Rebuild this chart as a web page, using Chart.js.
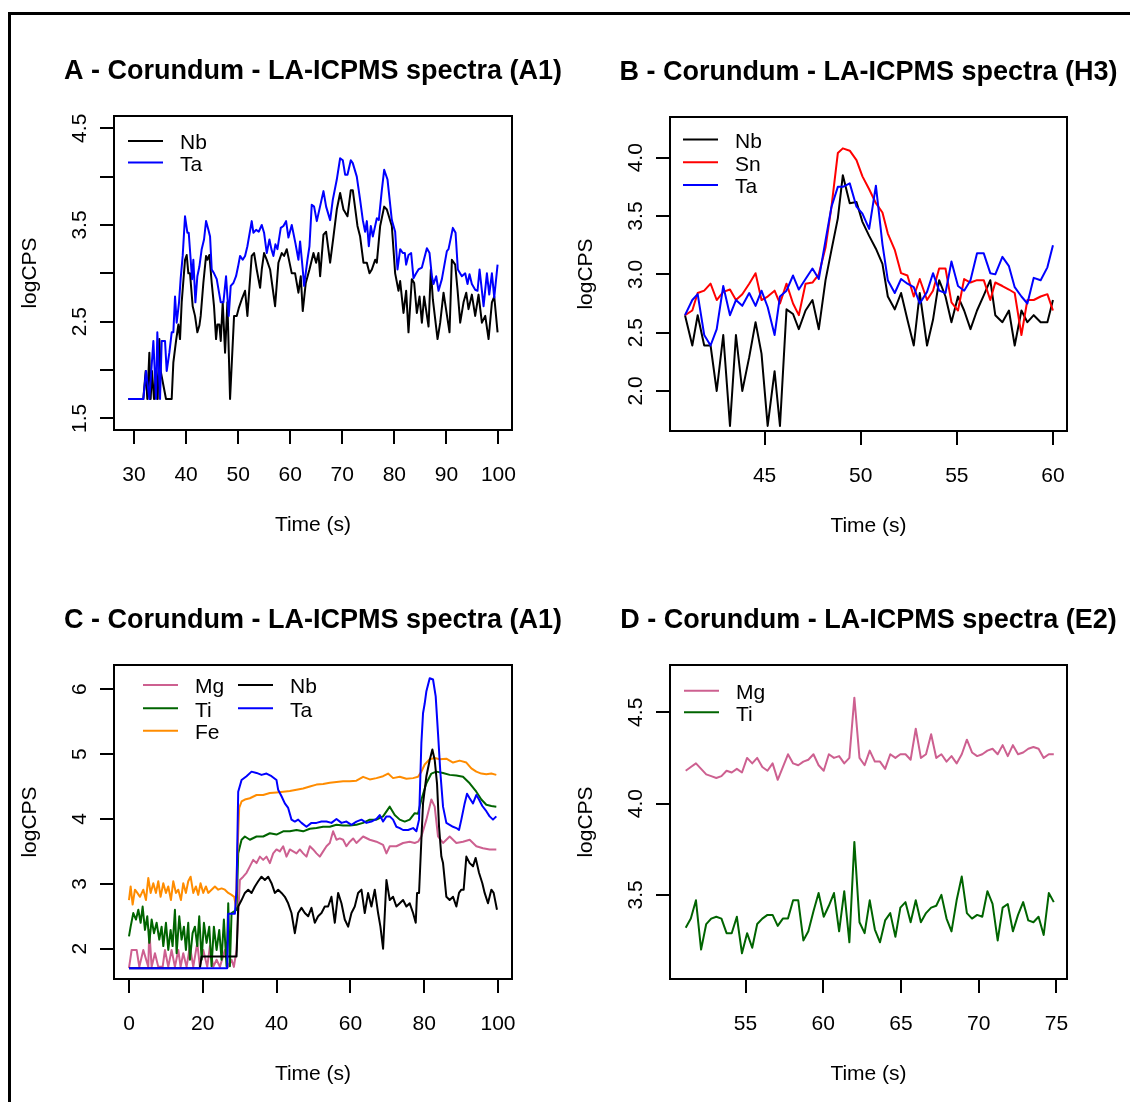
<!DOCTYPE html>
<html>
<head>
<meta charset="utf-8">
<script src="https://cdn.jsdelivr.net/npm/chart.js@4.4.1/dist/chart.umd.min.js"></script>
<style>
  body { margin: 0; background: #fff; }
  #page { position: relative; width: 1130px; height: 1102px; overflow: hidden; background: #fff; }
  #frame { position: absolute; left: 8px; top: 12px; width: 1300px; height: 1300px; border-left: 3px solid #000; border-top: 3px solid #000; }
  canvas { position: absolute; }
</style>
</head>
<body>
<div id="page">
  <div id="frame"></div>
  <canvas id="chartA" width="565" height="551" style="left:0;top:0"></canvas>
  <canvas id="chartB" width="565" height="551" style="left:565px;top:0"></canvas>
  <canvas id="chartC" width="565" height="551" style="left:0;top:551px"></canvas>
  <canvas id="chartD" width="565" height="551" style="left:565px;top:551px"></canvas>
</div>
<script>
// ---- A: spot A1, Nb / Ta  [time s, logCPS]
const nbA = [[28.91,1.70],[31.79,1.70],[32.24,1.99],[32.56,1.70],[32.95,2.18],[33.20,1.70],[33.46,1.99],[33.84,1.70],[34.23,1.99],[34.55,1.70],[34.87,2.32],[35.12,1.99],[36.15,1.70],[37.24,1.70],[37.56,2.08],[38.07,2.30],[38.52,2.47],[38.84,2.32],[39.16,2.70],[39.80,3.14],[40.12,3.19],[40.44,3.00],[40.76,3.00],[41.27,2.66],[41.72,2.56],[42.17,2.39],[42.56,2.46],[42.81,2.56],[43.32,2.90],[43.84,3.18],[44.09,3.14],[44.48,3.19],[44.93,2.90],[45.37,2.66],[45.76,2.32],[46.02,2.47],[46.40,2.47],[46.66,2.30],[47.04,2.70],[47.49,2.18],[47.94,2.70],[48.45,1.70],[49.22,2.56],[49.73,2.56],[50.12,2.64],[50.69,2.73],[51.33,2.82],[51.78,2.56],[52.61,3.18],[53.06,3.21],[53.57,3.04],[54.22,2.85],[54.54,3.04],[54.98,3.21],[55.50,3.14],[56.14,3.04],[57.10,2.66],[57.74,3.11],[58.38,3.21],[58.83,3.18],[59.34,3.25],[60.30,3.00],[60.94,3.00],[61.58,2.80],[62.03,2.97],[62.41,2.61],[62.99,2.90],[63.70,3.04],[64.47,3.21],[64.98,3.11],[65.43,3.21],[65.75,2.97],[66.39,3.40],[66.90,3.43],[67.67,3.11],[68.31,3.38],[68.95,3.66],[69.59,3.83],[70.23,3.66],[71.00,3.59],[71.64,3.86],[72.02,3.86],[72.92,3.49],[73.43,3.38],[74.07,3.11],[74.72,3.11],[75.23,3.00],[75.68,3.04],[76.32,3.14],[76.64,3.11],[77.28,3.49],[78.05,3.69],[78.56,3.66],[79.52,3.49],[80.16,3.00],[80.80,2.82],[81.12,2.92],[81.76,2.59],[82.27,2.82],[82.72,2.39],[83.36,2.94],[83.81,2.90],[84.32,2.59],[84.84,2.76],[85.29,2.49],[85.73,2.76],[86.57,2.45],[87.01,3.04],[87.40,2.73],[88.30,2.32],[88.81,2.49],[89.45,2.80],[90.60,2.39],[91.05,3.14],[91.69,3.09],[92.14,2.83],[92.65,2.49],[93.29,2.70],[93.81,2.80],[94.25,2.63],[94.89,2.78],[95.53,2.56],[96.17,2.78],[96.82,2.49],[97.46,2.56],[98.10,2.32],[98.74,2.70],[99.19,2.76],[99.83,2.39]];
const taA = [[28.91,1.70],[31.79,1.70],[32.31,1.99],[32.95,1.70],[33.72,2.30],[34.23,1.70],[34.48,2.39],[35.00,1.70],[35.32,2.30],[35.96,2.30],[36.28,1.99],[36.79,2.18],[37.24,2.39],[37.56,2.39],[37.88,2.76],[38.20,2.49],[38.65,2.70],[38.97,2.95],[39.35,3.18],[39.80,3.59],[40.25,3.42],[40.51,3.42],[40.89,3.14],[41.15,2.94],[41.40,3.14],[41.79,2.70],[42.17,2.97],[42.56,3.07],[43.00,3.25],[43.45,3.35],[43.84,3.54],[44.29,3.45],[44.61,3.38],[44.93,3.04],[45.37,3.00],[45.89,2.94],[46.66,2.70],[47.17,2.70],[47.68,2.97],[48.19,2.56],[48.58,2.87],[49.09,2.90],[49.60,2.97],[49.99,3.07],[50.37,3.18],[50.88,3.14],[51.33,3.18],[51.78,3.28],[52.61,3.54],[52.93,3.42],[53.45,3.45],[53.96,3.43],[54.54,3.50],[54.98,3.42],[55.50,3.21],[56.01,3.35],[56.39,3.25],[56.78,3.18],[57.16,3.30],[57.55,3.25],[58.19,3.47],[58.70,3.49],[59.21,3.54],[59.66,3.37],[60.30,3.50],[61.01,3.31],[61.58,3.14],[61.90,3.33],[62.41,3.04],[62.67,2.87],[63.31,3.14],[63.70,3.28],[64.14,3.71],[64.59,3.69],[65.11,3.54],[66.39,3.85],[66.90,3.69],[67.67,3.55],[68.18,3.76],[68.95,3.97],[69.59,4.19],[70.10,4.17],[70.55,4.02],[71.00,4.02],[71.64,4.17],[72.02,4.14],[72.79,4.00],[73.43,3.76],[73.95,3.55],[74.39,3.43],[74.72,3.54],[75.10,3.28],[75.48,3.49],[75.87,3.38],[76.64,3.57],[77.02,3.55],[77.60,3.86],[78.05,4.07],[78.69,3.97],[79.52,3.55],[80.16,3.43],[80.61,3.04],[81.12,3.25],[81.63,3.21],[82.02,3.21],[82.27,3.09],[82.72,3.19],[83.23,3.21],[83.68,2.95],[84.20,3.00],[84.64,3.04],[85.29,3.06],[86.25,3.26],[86.76,3.21],[87.21,2.97],[87.53,2.89],[88.04,2.97],[88.49,2.82],[89.13,2.94],[90.09,3.23],[90.41,3.25],[91.24,3.47],[91.76,3.42],[92.20,3.04],[92.97,2.97],[93.61,3.00],[94.06,2.89],[94.44,2.99],[94.89,2.89],[95.53,2.83],[95.98,2.82],[96.37,3.04],[97.14,2.66],[97.78,3.00],[98.23,2.78],[98.74,3.00],[99.19,2.75],[99.83,3.09]];

// ---- B: spot H3, Nb / Sn / Ta (common time base)
const timesB = [40.86,41.24,41.52,41.86,42.19,42.51,42.85,43.20,43.51,43.84,44.20,44.53,44.84,45.16,45.52,45.80,46.14,46.48,46.78,47.13,47.49,47.82,48.17,48.48,48.81,49.07,49.43,49.78,50.09,50.44,50.79,51.13,51.41,51.77,52.10,52.43,52.76,53.07,53.45,53.76,54.08,54.41,54.72,55.06,55.38,55.71,56.05,56.40,56.74,57.00,57.37,57.71,58.01,58.36,58.67,59.00,59.36,59.71,60.00];
const nbB = [2.65,2.39,2.65,2.39,2.39,2.00,2.48,1.70,2.48,2.00,2.29,2.59,2.32,1.70,2.17,1.70,2.70,2.66,2.53,2.69,2.78,2.53,2.95,3.21,3.48,3.85,3.61,3.62,3.45,3.33,3.22,3.09,2.81,2.70,2.84,2.61,2.39,2.84,2.39,2.61,2.95,2.81,2.59,2.81,2.69,2.53,2.69,2.82,2.95,2.65,2.59,2.69,2.39,2.69,2.59,2.65,2.59,2.59,2.78];
const snB = [2.65,2.69,2.84,2.86,2.92,2.78,2.85,2.87,2.78,2.83,2.92,3.01,2.78,2.81,2.86,2.75,2.92,2.75,2.65,2.92,2.93,3.00,3.23,3.58,4.04,4.08,4.06,3.98,3.84,3.73,3.61,3.53,3.35,3.21,3.01,2.99,2.81,2.96,2.78,2.86,3.05,3.05,2.76,2.69,2.96,2.93,2.95,2.95,2.78,2.93,2.90,2.87,2.84,2.48,2.78,2.78,2.81,2.83,2.69];
const taB = [2.65,2.78,2.83,2.48,2.39,2.53,2.90,2.65,2.78,2.73,2.84,2.73,2.86,2.72,2.48,2.81,2.86,2.99,2.87,2.96,3.05,2.96,3.29,3.58,3.75,3.75,3.78,3.58,3.52,3.39,3.76,3.26,2.95,2.84,2.96,2.92,2.89,2.75,2.85,3.01,2.86,2.84,3.11,2.90,2.86,2.95,3.18,3.18,3.01,3.00,3.15,3.07,2.89,2.81,2.75,2.97,2.95,3.06,3.25];

// ---- C: spot A1, Mg / Ti / Fe / Nb / Ta  [time s, logCPS]
const mgC = [[0,1.70],[0.72,1.98],[2.08,1.98],[2.80,1.72],[3.88,1.98],[5.23,1.72],[5.51,2.29],[6.14,1.72],[7.04,1.93],[7.94,1.72],[9.12,1.72],[9.75,1.98],[10.65,1.72],[11.55,1.98],[12.45,1.72],[13.36,1.98],[13.99,1.72],[14.71,1.93],[15.61,1.72],[16.52,2.04],[17.42,1.72],[18.50,2.09],[19.22,1.72],[20.13,1.98],[21.21,1.72],[21.93,2.04],[22.83,1.72],[23.74,1.83],[24.64,1.72],[25.99,1.98],[26.90,1.72],[27.80,1.83],[28.43,1.72],[29.15,1.98],[30.05,3.06],[30.96,3.11],[31.86,3.17],[32.76,3.27],[33.66,3.37],[34.57,3.32],[35.47,3.42],[36.37,3.37],[37.27,3.42],[38.18,3.32],[39.08,3.47],[39.98,3.53],[40.88,3.50],[41.79,3.58],[42.69,3.42],[43.59,3.53],[44.49,3.50],[45.40,3.47],[46.30,3.53],[47.20,3.47],[48.10,3.42],[49.01,3.58],[49.91,3.53],[50.81,3.47],[51.71,3.42],[52.62,3.50],[53.52,3.58],[54.42,3.63],[55.32,3.81],[56.23,3.68],[57.13,3.70],[58.03,3.68],[58.93,3.58],[59.84,3.65],[60.74,3.70],[61.64,3.63],[63.45,3.73],[65.25,3.68],[67.06,3.65],[68.86,3.60],[69.77,3.47],[70.67,3.58],[72.47,3.58],[74.28,3.63],[76.08,3.65],[77.44,3.63],[78.34,3.65],[79.24,3.73],[80.60,3.99],[81.95,4.30],[82.85,4.19],[83.75,3.73],[85.11,3.63],[86.91,3.73],[88.72,3.63],[90.52,3.65],[92.33,3.68],[94.13,3.58],[95.94,3.55],[97.74,3.53],[99.55,3.53]];
const tiC = [[0,2.19],[0.45,2.34],[1.17,2.55],[1.90,2.45],[2.53,2.60],[3.16,2.40],[3.70,2.65],[4.33,2.29],[4.96,2.50],[5.51,2.09],[6.14,2.45],[6.77,2.24],[7.49,2.40],[8.21,2.14],[8.84,2.34],[9.30,2.04],[10.02,2.40],[10.65,1.98],[11.28,2.29],[11.82,2.04],[12.45,2.60],[12.91,1.93],[13.63,2.50],[14.26,2.14],[14.89,2.34],[15.43,1.98],[16.06,2.40],[16.52,1.83],[17.24,2.24],[17.87,2.34],[18.50,2.04],[19.04,2.50],[19.68,1.83],[20.31,2.40],[21.03,2.09],[21.75,2.34],[22.38,1.73],[23.01,2.34],[23.74,1.98],[24.46,2.29],[25.09,1.83],[25.72,2.45],[26.44,1.73],[26.90,2.70],[27.35,1.73],[27.80,2.55],[29.15,2.60],[29.60,3.47],[30.51,3.68],[31.41,3.73],[32.76,3.68],[34.57,3.73],[36.37,3.73],[38.18,3.78],[39.98,3.76],[41.79,3.81],[43.59,3.81],[45.40,3.83],[47.20,3.81],[49.01,3.85],[50.81,3.86],[52.62,3.88],[54.42,3.88],[56.23,3.91],[58.03,3.90],[59.84,3.90],[61.64,3.91],[63.45,3.94],[65.25,3.99],[67.06,3.99],[68.86,4.04],[70.67,4.19],[72.02,4.06],[73.38,3.99],[74.73,3.96],[76.08,3.99],[77.44,4.09],[78.34,4.08],[79.24,4.30],[80.60,4.55],[81.95,4.70],[83.30,4.73],[85.11,4.71],[86.91,4.68],[88.72,4.67],[90.52,4.65],[92.33,4.55],[94.13,4.42],[95.49,4.30],[96.84,4.22],[98.20,4.20],[99.55,4.19]];
const feC = [[0,2.75],[0.45,2.96],[0.99,2.68],[1.62,2.91],[2.26,2.86],[2.98,2.80],[3.88,2.91],[4.60,2.75],[5.23,3.09],[5.87,2.86],[6.59,3.01],[7.31,2.86],[7.94,3.04],[8.57,2.80],[9.30,3.01],[10.02,2.86],[10.65,2.96],[11.37,2.75],[12.00,3.04],[12.73,2.86],[13.36,2.91],[14.08,2.75],[14.71,3.01],[15.43,2.86],[16.06,3.04],[16.70,3.11],[17.42,2.86],[18.14,2.96],[18.77,2.83],[19.40,3.01],[20.13,2.86],[20.85,2.96],[21.48,2.86],[22.38,2.91],[23.29,2.96],[24.19,2.91],[25.09,2.93],[25.99,2.91],[26.90,2.86],[27.80,2.83],[28.52,2.80],[28.97,2.65],[29.33,3.40],[29.87,4.17],[30.51,4.27],[31.41,4.30],[32.76,4.32],[34.57,4.37],[36.37,4.37],[38.18,4.40],[39.98,4.41],[41.79,4.42],[43.59,4.43],[45.40,4.45],[47.20,4.47],[49.01,4.50],[50.81,4.53],[52.62,4.54],[54.42,4.56],[56.23,4.57],[58.03,4.58],[59.84,4.58],[61.64,4.59],[63.45,4.65],[65.25,4.61],[67.06,4.63],[68.86,4.66],[70.22,4.70],[71.57,4.63],[73.38,4.65],[75.18,4.62],[76.99,4.63],[78.34,4.65],[79.24,4.73],[80.14,4.84],[81.50,4.92],[82.85,4.94],[84.21,4.92],[86.01,4.93],[87.82,4.87],[89.62,4.90],[91.43,4.87],[92.78,4.78],[94.13,4.73],[95.49,4.70],[96.84,4.69],[98.20,4.70],[99.55,4.68]];
const nbC = [[0,1.70],[19.22,1.70],[19.68,1.88],[29.15,1.88],[29.60,2.65],[30.51,2.75],[31.41,2.86],[32.31,2.91],[33.21,2.86],[34.12,2.96],[35.02,3.04],[35.92,3.11],[36.82,3.06],[37.73,3.11],[38.63,3.01],[39.53,2.86],[40.43,2.91],[41.34,2.86],[42.24,2.80],[43.14,2.70],[44.04,2.55],[44.95,2.24],[45.85,2.55],[46.75,2.63],[47.65,2.55],[48.56,2.50],[49.46,2.63],[50.36,2.40],[51.26,2.50],[52.17,2.55],[53.07,2.65],[53.97,2.65],[54.87,2.80],[55.78,2.40],[56.68,2.86],[57.58,2.70],[58.48,2.45],[59.39,2.34],[60.29,2.55],[61.19,2.65],[62.09,2.86],[63.00,2.91],[63.90,2.55],[64.80,2.86],[65.70,2.65],[66.61,2.91],[67.51,2.55],[68.14,2.34],[68.86,2.00],[69.77,3.06],[70.67,2.75],[71.57,2.80],[72.47,2.65],[73.38,2.70],[74.28,2.75],[75.18,2.65],[76.08,2.70],[76.99,2.55],[77.71,2.40],[78.07,2.86],[78.61,2.86],[79.24,3.68],[79.69,4.24],[80.60,4.66],[81.50,4.91],[82.22,5.07],[82.85,4.91],[83.48,4.55],[84.03,3.88],[84.66,3.42],[85.11,3.32],[85.56,3.06],[86.01,2.80],[86.91,2.75],[87.82,2.80],[88.72,2.65],[89.44,2.86],[90.07,2.91],[90.70,2.91],[91.43,3.42],[92.33,3.32],[93.23,3.27],[93.95,3.40],[94.86,3.17],[95.76,3.01],[96.39,2.86],[97.29,2.70],[98.20,2.91],[98.83,2.86],[99.73,2.60]];
const taC = [[0,1.70],[26.62,1.70],[26.90,2.54],[28.70,2.54],[29.15,2.91],[29.60,4.42],[30.51,4.60],[31.86,4.66],[33.21,4.73],[34.57,4.71],[35.92,4.68],[37.27,4.70],[38.63,4.66],[39.98,4.60],[40.43,4.45],[41.34,4.35],[42.24,4.24],[43.14,4.17],[44.04,3.99],[44.95,3.96],[45.85,3.99],[46.75,3.94],[48.10,3.88],[49.46,3.94],[50.81,3.94],[52.17,3.96],[53.52,3.96],[54.87,3.94],[56.23,4.00],[57.58,3.94],[58.93,3.96],[60.29,3.91],[61.64,3.96],[63.00,3.99],[64.35,3.94],[65.70,3.96],[67.06,4.00],[67.96,4.06],[68.86,3.96],[69.77,4.04],[70.67,4.04],[71.57,3.99],[72.47,3.88],[73.38,3.86],[74.28,3.83],[75.63,3.83],[76.99,3.86],[77.89,3.81],[78.61,3.99],[79.24,5.17],[79.69,5.63],[80.14,5.78],[80.60,5.97],[81.50,6.17],[82.40,6.15],[83.12,5.89],[83.75,5.32],[84.39,4.71],[85.11,4.19],[86.01,3.94],[86.91,3.91],[87.82,3.88],[88.72,3.86],[89.44,3.83],[90.07,3.99],[90.97,4.24],[91.61,4.39],[92.33,4.32],[93.23,4.24],[94.13,4.37],[94.86,4.30],[95.76,4.20],[96.84,4.12],[97.74,4.04],[98.65,3.99],[99.55,4.04]];

// ---- D: spot E2, Mg / Ti (common time base)
const timesD = [51.15,51.48,51.81,52.14,52.47,52.79,53.12,53.45,53.78,54.11,54.44,54.77,55.10,55.43,55.75,56.08,56.41,56.74,57.07,57.40,57.73,58.06,58.39,58.72,59.04,59.37,59.70,60.03,60.36,60.69,61.02,61.35,61.68,62.00,62.33,62.66,62.99,63.32,63.65,63.98,64.31,64.64,64.96,65.29,65.62,65.95,66.28,66.61,66.94,67.27,67.60,67.93,68.25,68.58,68.91,69.24,69.57,69.90,70.23,70.56,70.89,71.22,71.54,71.87,72.20,72.53,72.86,73.19,73.52,73.85,74.18,74.51,74.83];
const mgD = [4.18,4.20,4.22,4.19,4.16,4.15,4.14,4.15,4.18,4.17,4.19,4.17,4.25,4.22,4.25,4.20,4.18,4.22,4.13,4.20,4.27,4.22,4.21,4.23,4.24,4.27,4.21,4.18,4.27,4.25,4.26,4.22,4.25,4.58,4.25,4.21,4.29,4.23,4.23,4.19,4.27,4.25,4.27,4.27,4.24,4.41,4.25,4.27,4.38,4.25,4.27,4.23,4.26,4.22,4.27,4.35,4.28,4.26,4.27,4.29,4.30,4.27,4.32,4.26,4.32,4.27,4.28,4.30,4.31,4.30,4.25,4.27,4.27];
const tiD = [3.32,3.37,3.47,3.20,3.34,3.37,3.38,3.37,3.29,3.29,3.38,3.18,3.29,3.21,3.34,3.37,3.39,3.39,3.33,3.37,3.37,3.47,3.47,3.25,3.30,3.41,3.51,3.38,3.44,3.51,3.30,3.52,3.24,3.79,3.35,3.29,3.47,3.31,3.24,3.36,3.40,3.27,3.43,3.46,3.35,3.47,3.35,3.40,3.43,3.44,3.50,3.37,3.30,3.47,3.60,3.40,3.37,3.39,3.38,3.52,3.45,3.25,3.43,3.45,3.30,3.39,3.46,3.36,3.35,3.38,3.28,3.51,3.46];

const COL = { Mg: '#CD6090', Ti: '#006400', Fe: '#FF8C00', Nb: '#000000', Sn: '#FF0000', Ta: '#0000FF' };
const FONT = '"Liberation Sans", Arial, Helvetica, sans-serif';

// helpers
const pairs = arr => arr.map(p => ({ x: p[0], y: p[1] }));
const zipT = (t, v) => v.map((y, i) => ({ x: t[i], y: y }));

// R-like frame, ticks, labels, titles and in-box legend
const rPlot = {
  id: 'rPlot',
  afterDraw(chart, args, o) {
    const ctx = chart.ctx, a = chart.chartArea, xs = chart.scales.x, ys = chart.scales.y;
    ctx.save();
    ctx.strokeStyle = '#000';
    ctx.fillStyle = '#000';
    ctx.lineWidth = 2;
    ctx.strokeRect(a.left, a.top, a.right - a.left, a.bottom - a.top);
    ctx.beginPath();
    o.xTicks.forEach(v => {
      const p = Math.round(xs.getPixelForValue(v));
      ctx.moveTo(p, a.bottom); ctx.lineTo(p, a.bottom + 14);
    });
    o.yTicks.forEach(v => {
      const p = Math.round(ys.getPixelForValue(v));
      ctx.moveTo(a.left, p); ctx.lineTo(a.left - 14, p);
    });
    ctx.stroke();

    ctx.font = '21px ' + FONT;
    ctx.textAlign = 'center';
    ctx.textBaseline = 'middle';
    o.xTicks.forEach(v => ctx.fillText(String(v), xs.getPixelForValue(v), a.bottom + 45));
    o.yLabels.forEach(s => {
      ctx.save();
      ctx.translate(a.left - 34, ys.getPixelForValue(parseFloat(s)));
      ctx.rotate(-Math.PI / 2);
      ctx.fillText(s, 0, 0);
      ctx.restore();
    });
    ctx.fillText('Time (s)', (a.left + a.right) / 2, a.bottom + 95);
    ctx.save();
    ctx.translate(a.left - 84, (a.top + a.bottom) / 2);
    ctx.rotate(-Math.PI / 2);
    ctx.fillText('logCPS', 0, 0);
    ctx.restore();

    ctx.font = 'bold 27px ' + FONT;
    ctx.fillText(o.title, (a.left + a.right) / 2, a.top - 44);

    // legend: [dataset index, dx, dy] from the box corner
    ctx.font = '21px ' + FONT;
    ctx.textAlign = 'left';
    o.legend.forEach(([i, dx, dy]) => {
      const ds = chart.data.datasets[i];
      const lx = a.left + dx, ly = a.top + dy;
      ctx.strokeStyle = ds.borderColor;
      ctx.beginPath(); ctx.moveTo(lx, ly); ctx.lineTo(lx + 35, ly); ctx.stroke();
      ctx.fillText(ds.label, lx + 52, ly + 2.5);
    });
    ctx.restore();
  }
};

function series(label, data, n, i) {
  return {
    label: label, data: data, borderColor: COL[label], borderWidth: 2,
    pointRadius: 0, tension: 0, fill: false, borderJoinStyle: 'round',
    order: n - i
  };
}

function panel(id, sets, xr, yr, pad, plotOpts) {
  const n = sets.length;
  return new Chart(document.getElementById(id), {
    type: 'line',
    data: { datasets: sets.map((s, i) => series(s[0], s[1], n, i)) },
    options: {
      responsive: false,
      animation: false,
      devicePixelRatio: 1,
      layout: { padding: pad },
      scales: {
        x: { type: 'linear', display: false, min: xr[0], max: xr[1] },
        y: { type: 'linear', display: false, min: yr[0], max: yr[1] }
      },
      plugins: { legend: { display: false }, tooltip: { enabled: false }, rPlot: plotOpts }
    },
    plugins: [rPlot]
  });
}

panel('chartA', [['Nb', pairs(nbA)], ['Ta', pairs(taA)]],
  [26.16, 102.6], [1.38, 4.627],
  { left: 114, right: 53, top: 116, bottom: 121 },
  { title: 'A - Corundum - LA-ICPMS spectra (A1)',
    xTicks: [30, 40, 50, 60, 70, 80, 90, 100], yTicks: [1.5, 2, 2.5, 3, 3.5, 4, 4.5],
    yLabels: ['1.5', '2.5', '3.5', '4.5'],
    legend: [[0, 14, 25], [1, 14, 46.5]] });

panel('chartB', [['Nb', zipT(timesB, nbB)], ['Sn', zipT(timesB, snB)], ['Ta', zipT(timesB, taB)]],
  [40.08, 60.73], [1.657, 4.349],
  { left: 105, right: 63, top: 117, bottom: 120 },
  { title: 'B - Corundum - LA-ICPMS spectra (H3)',
    xTicks: [45, 50, 55, 60], yTicks: [2, 2.5, 3, 3.5, 4],
    yLabels: ['2.0', '2.5', '3.0', '3.5', '4.0'],
    legend: [[0, 13, 22.5], [1, 13, 45.3], [2, 13, 68]] });

panel('chartC', [['Mg', pairs(mgC)], ['Ti', pairs(tiC)], ['Fe', pairs(feC)], ['Nb', pairs(nbC)], ['Ta', pairs(taC)]],
  [-4.06, 103.8], [1.533, 6.374],
  { left: 114, right: 53, top: 114, bottom: 123 },
  { title: 'C - Corundum - LA-ICPMS spectra (A1)',
    xTicks: [0, 20, 40, 60, 80, 100], yTicks: [2, 3, 4, 5, 6],
    yLabels: ['2', '3', '4', '5', '6'],
    legend: [[0, 29, 20], [1, 29, 43.3], [2, 29, 65.7], [3, 124, 20], [4, 124, 43.3]] });

panel('chartD', [['Mg', zipT(timesD, mgD)], ['Ti', zipT(timesD, tiD)]],
  [50.14, 75.68], [3.039, 4.759],
  { left: 105, right: 63, top: 114, bottom: 123 },
  { title: 'D - Corundum - LA-ICPMS spectra (E2)',
    xTicks: [55, 60, 65, 70, 75], yTicks: [3.5, 4, 4.5],
    yLabels: ['3.5', '4.0', '4.5'],
    legend: [[0, 14, 25.7], [1, 14, 47.3]] });
</script>
